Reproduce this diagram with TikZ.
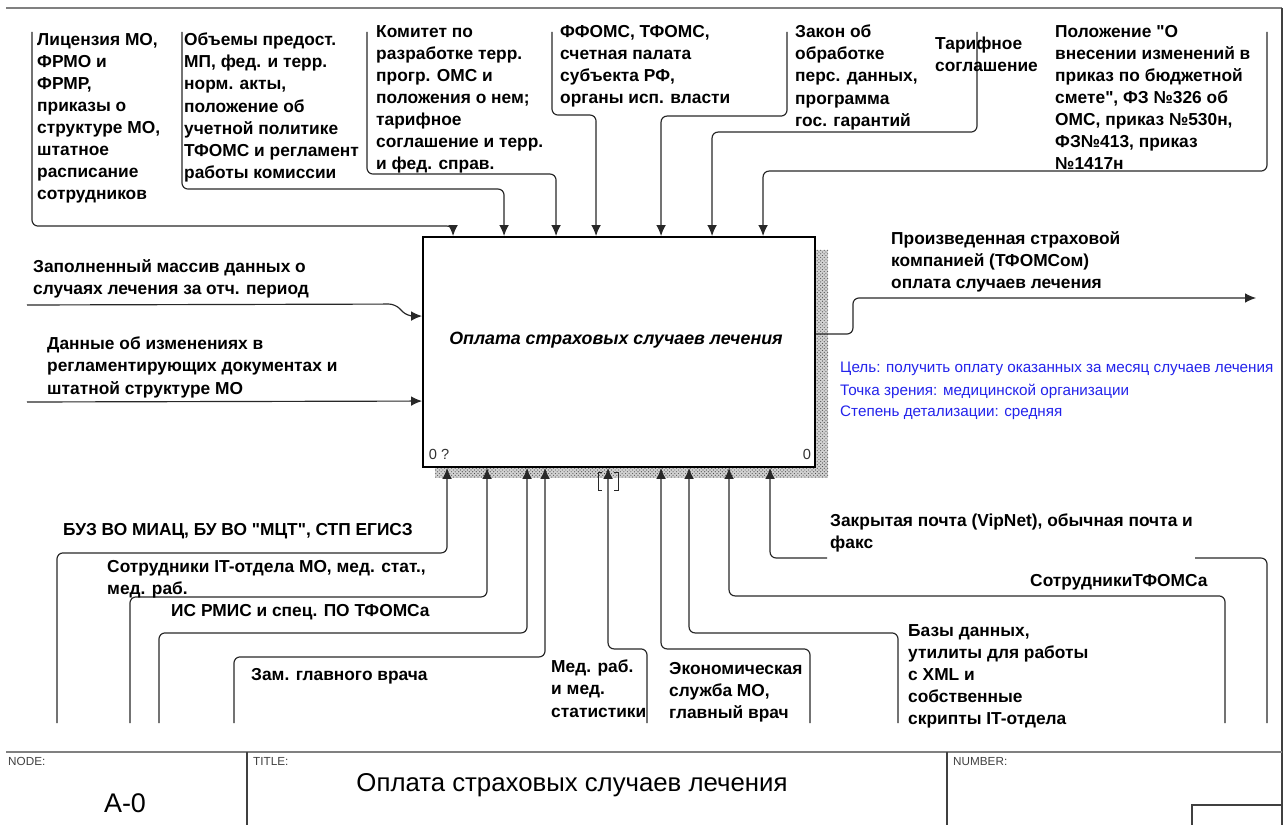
\documentclass[tikz,border=0pt]{standalone}
\usepackage{fontspec}
\setmainfont{Liberation Sans}[Ligatures=TeXOff]
\usepackage{tikz}
\usetikzlibrary{arrows.meta, positioning, calc, patterns}
\definecolor{idefblue}{RGB}{35, 35, 235}
\definecolor{idefline}{RGB}{40, 40, 40}
\newcommand{\lblfont}{\fontsize{14.8}{18.8}\selectfont\bfseries}

\begin{document}
\begin{tikzpicture}[x=0.03cm, y=-0.03cm,
    act/.style={draw, line width=1.6pt, fill=white, minimum width=11.76cm, minimum height=6.9cm, inner sep=0pt},
    lbl/.style={font=\lblfont, align=left, anchor=north west, inner sep=0pt},
    goal/.style={font=\fontsize{13}{18}\selectfont, text=idefblue, anchor=north west, inner sep=0pt},
    corner/.style={font=\fontsize{12.5}{14}\selectfont, text=black!80, inner sep=0pt},
    hdr/.style={font=\fontsize{10}{12}\selectfont, text=black!75, anchor=north west, inner sep=0pt},
    arr/.style={draw=idefline, line width=1pt, rounded corners=1.8mm, -{Latex[length=3.3mm,width=2.9mm]}},
    wire/.style={draw=idefline, line width=1pt, rounded corners=1.8mm}
]
    \useasboundingbox (0,0) rectangle (1283,825);

    % Activity box
    \fill[gray!35] (435,250) rectangle (828,478);
    \fill[pattern=crosshatch dots, pattern color=black!70] (435,250) rectangle (828,478);
    \node[act] (A0) at (619,352) {};
    \node[font=\fontsize{15.2}{18}\selectfont\bfseries\itshape, inner sep=0pt] (A0t) at ($(A0.center)+(-3,-12)$) {Оплата страховых случаев лечения};
    \node[corner] (A0no) at ($(A0.south west)+(17,-13)$) {0 ?};
    \node[corner] (A0cost) at ($(A0.south east)+(-9,-13)$) {0};

    % Arrow points on the box
    \foreach \n/\dx in {1/31, 2/82, 3/134, 4/174, 5/239, 6/290, 7/341}
        \coordinate (c\n) at ($(A0.north west)+(\dx,0)$);
    \foreach \n/\dx in {1/25, 2/65, 3/105, 4/123, 5/186, 6/239, 7/267, 8/307, 9/348}
        \coordinate (m\n) at ($(A0.south west)+(\dx,0)$);
    \coordinate (i1) at ($(A0.north west)+(0,80)$);
    \coordinate (i2) at ($(A0.north west)+(0,165)$);
    \coordinate (o1) at ($(A0.north east)+(0,98)$);

    % Controls
    \foreach \n/\x in {1/32, 2/182, 3/367, 4/552, 5/787, 6/977, 7/1267}
        \coordinate (cb\n) at (\x,32);
    \foreach \n/\h in {1/10, 2/47, 3/62, 4/121, 5/120, 6/104, 7/65}
        \draw[arr] (cb\n) |- ($(c\n)+(0,-\h)$) -- (c\n);

    \node[lbl] (lic) at (37,33) {Лицензия МО,\\ФРМО и\\ФРМР,\\приказы о\\структуре МО,\\штатное\\расписание\\сотрудников};
    \node[lbl] (vol) at (184,33) {Объемы предост.\\МП, фед. и терр.\\норм. акты,\\положение об\\учетной политике\\ТФОМС и регламент\\работы комиссии};
    \node[lbl] (kom) at (376,25) {Комитет по\\разработке терр.\\прогр. ОМС и\\положения о нем;\\тарифное\\соглашение и терр.\\и фед. справ.};
    \node[lbl] (ffoms) at (560,25) {ФФОМС, ТФОМС,\\счетная палата\\субъекта РФ,\\органы исп. власти};
    \node[lbl] (zakon) at (795,25) {Закон об\\обработке\\перс. данных,\\программа\\гос. гарантий};
    \node[lbl] (tarif) at (935,37) {Тарифное\\соглашение};
    \node[lbl] (polozh) at (1055,25) {Положение "О\\внесении изменений в\\приказ по бюджетной\\смете", ФЗ №326 об\\ОМС, приказ №530н,\\ФЗ№413, приказ\\№1417н};

    % Inputs
    \coordinate (ib1) at (27,305);
    \coordinate (ib2) at (27,402);
    \draw[arr] (ib1) -- ($(i1)+(-27,-12)$) -- ($(i1)+(-15,0)$) -- (i1);
    \draw[arr] (ib2) -- (i2);
    \node[lbl] (massiv) at (33,259) {Заполненный массив данных о\\случаях лечения за отч. период};
    \node[lbl] (izm) at (47,337) {Данные об изменениях в\\регламентирующих документах и\\штатной структуре МО};

    % Output
    \coordinate (oe) at (1256,298);
    \draw[arr] (o1) -- ($(o1)+(37,0)$) |- (oe);
    \node[lbl] (oplata) at (891,231) {Произведенная страховой\\компанией (ТФОМСом)\\оплата случаев лечения};

    % Purpose and viewpoint
    \node[goal] (cel) at (840,362) {Цель: получить оплату оказанных за месяц случаев лечения};
    \node[goal] (tochka) at (840,384) {Точка зрения: медицинской организации};
    \node[goal] (stepen) at (840,406) {Степень детализации: средняя};

    % Mechanisms
    \foreach \n/\x in {1/57, 2/130, 3/159, 4/234, 5/647, 6/810, 7/898, 8/1225, 9/1267}
        \coordinate (mb\n) at (\x,723);
    \foreach \n/\h in {1/85, 2/129, 3/165, 4/189, 5/181, 6/181, 7/165, 8/128}
        \draw[arr] (mb\n) |- ($(m\n)+(0,\h)$) -- (m\n);
    \coordinate (gapr) at (1195,558);
    \coordinate (gapl) at (827,558);
    \draw[wire] (mb9) |- (gapr);
    \draw[arr] (gapl) -| (m9);
    % tunnel brackets
    \draw[idefline, line width=0.8pt] ($(m5)+(-6,5)$) -- ($(m5)+(-10,5)$) -- ($(m5)+(-10,23)$) -- ($(m5)+(-6,23)$);
    \draw[idefline, line width=0.8pt] ($(m5)+(6,5)$) -- ($(m5)+(10,5)$) -- ($(m5)+(10,23)$) -- ($(m5)+(6,23)$);

    \node[lbl] (miac) at (63,523) {БУЗ ВО МИАЦ, БУ ВО "МЦТ", СТП ЕГИСЗ};
    \node[lbl] (itstaff) at (107,560) {Сотрудники IT-отдела МО, мед. стат.,\\мед. раб.};
    \node[lbl] (rmis) at (171,604) {ИС РМИС и спец. ПО ТФОМСа};
    \node[lbl] (zam) at (251,668) {Зам. главного врача};
    \node[lbl] (medrab) at (551,660) {Мед. раб.\\и мед.\\статистики};
    \node[lbl] (econ) at (669,662) {Экономическая\\служба МО,\\главный врач};
    \node[lbl] (pochta) at (830,514) {Закрытая почта (VipNet), обычная почта и\\факс};
    \node[lbl] (tfstaff) at (1030,574) {СотрудникиТФОМСа};
    \node[lbl] (bazy) at (908,624) {Базы данных,\\утилиты для работы\\с XML и\\собственные\\скрипты IT-отдела};

    % Frame and title block
    \draw[gray, line width=1pt] (6,8) -- (1282,8);
    \draw[black!75, line width=1.2pt] (1282,8) -- (1282,825);
    \draw[gray, line width=2pt] (6,752) -- (1282,752);
    \draw[black!75, line width=1pt] (247,752) -- (247,825);
    \draw[black!75, line width=1pt] (947,752) -- (947,825);
    \draw[black!75, line width=1pt] (1192,825) |- (1282,805);
    \node[hdr] (nodehdr) at (8,757) {NODE:};
    \node[hdr] (titlehdr) at (253,757) {TITLE:};
    \node[hdr] (numhdr) at (953,757) {NUMBER:};
    \node[font=\fontsize{23}{26}\selectfont, inner sep=0pt] (nodeno) at (125,803) {A-0};
    \node[font=\fontsize{22}{26}\selectfont, inner sep=0pt] (title) at (572,785) {Оплата страховых случаев лечения};
\end{tikzpicture}
\end{document}
